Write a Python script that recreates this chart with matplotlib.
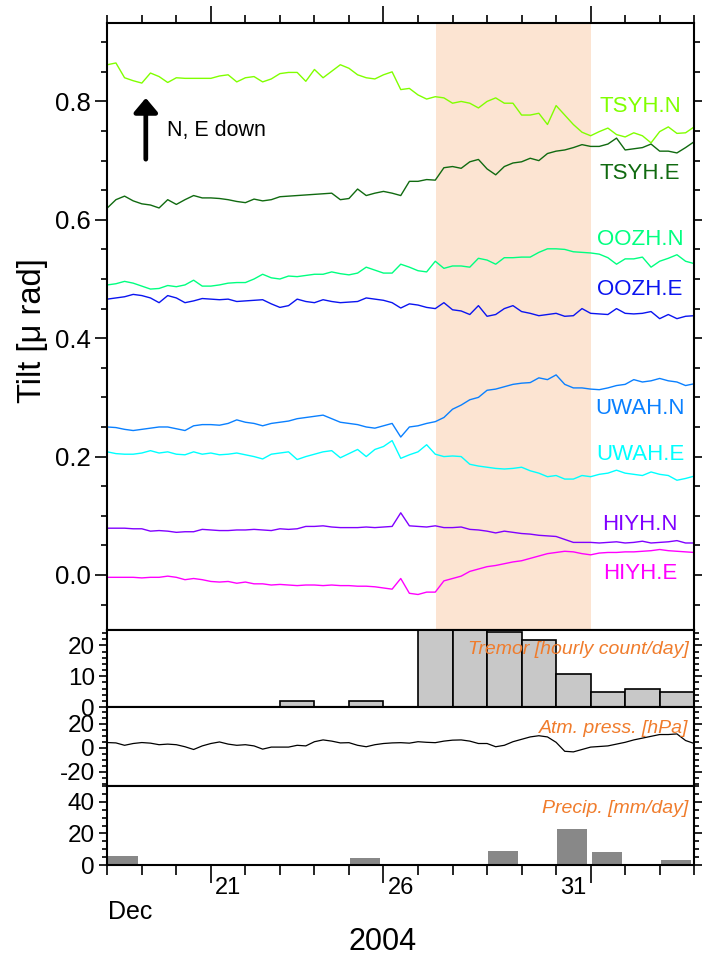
import numpy as np
import matplotlib
matplotlib.use('Agg')
import matplotlib.pyplot as plt
import matplotlib.transforms as mtrans
from matplotlib.ticker import MultipleLocator, FixedLocator, NullFormatter

plt.rcParams['font.family'] = ['Liberation Sans', 'DejaVu Sans']

# time axis: days since 2004-12-18 00:00, 6-hourly samples (69 points -> Jan 4 00:00)
t = np.arange(69) * 0.25

tsyh_n = [0.862, 0.865, 0.840, 0.835, 0.831, 0.848, 0.842, 0.832, 0.840, 0.839,
          0.839, 0.839, 0.839, 0.843, 0.845, 0.833, 0.840, 0.842, 0.833, 0.838,
          0.847, 0.849, 0.849, 0.834, 0.854, 0.840, 0.851, 0.862, 0.856, 0.845,
          0.840, 0.838, 0.845, 0.850, 0.820, 0.822, 0.811, 0.804, 0.808, 0.806,
          0.797, 0.800, 0.797, 0.789, 0.800, 0.806, 0.797, 0.797, 0.777, 0.777,
          0.780, 0.761, 0.793, 0.777, 0.761, 0.748, 0.742, 0.749, 0.755, 0.744,
          0.740, 0.747, 0.742, 0.730, 0.749, 0.757, 0.746, 0.747, 0.757]
tsyh_e = [0.620, 0.634, 0.640, 0.632, 0.627, 0.625, 0.620, 0.634, 0.626, 0.634,
          0.641, 0.637, 0.637, 0.636, 0.634, 0.631, 0.629, 0.635, 0.632, 0.634,
          0.639, 0.640, 0.641, 0.642, 0.643, 0.644, 0.645, 0.634, 0.636, 0.652,
          0.641, 0.645, 0.648, 0.645, 0.641, 0.665, 0.665, 0.668, 0.667, 0.688,
          0.690, 0.687, 0.698, 0.702, 0.686, 0.676, 0.690, 0.696, 0.698, 0.704,
          0.700, 0.712, 0.716, 0.718, 0.722, 0.727, 0.724, 0.724, 0.728, 0.738,
          0.718, 0.720, 0.722, 0.728, 0.716, 0.716, 0.713, 0.722, 0.732]
oozh_n = [0.490, 0.492, 0.496, 0.493, 0.488, 0.483, 0.484, 0.489, 0.487, 0.490,
          0.498, 0.488, 0.488, 0.490, 0.493, 0.494, 0.494, 0.500, 0.508, 0.502,
          0.500, 0.505, 0.504, 0.506, 0.508, 0.508, 0.512, 0.509, 0.507, 0.510,
          0.520, 0.515, 0.510, 0.510, 0.525, 0.520, 0.514, 0.512, 0.530, 0.518,
          0.522, 0.522, 0.520, 0.535, 0.532, 0.525, 0.536, 0.536, 0.537, 0.537,
          0.545, 0.551, 0.551, 0.550, 0.546, 0.545, 0.544, 0.542, 0.536, 0.525,
          0.534, 0.534, 0.537, 0.520, 0.530, 0.535, 0.541, 0.530, 0.526]
oozh_e = [0.466, 0.468, 0.470, 0.474, 0.472, 0.468, 0.460, 0.472, 0.468, 0.460,
          0.463, 0.467, 0.466, 0.465, 0.466, 0.462, 0.463, 0.464, 0.465, 0.458,
          0.452, 0.455, 0.466, 0.462, 0.460, 0.465, 0.462, 0.460, 0.461, 0.462,
          0.468, 0.466, 0.464, 0.460, 0.451, 0.458, 0.456, 0.452, 0.450, 0.460,
          0.448, 0.446, 0.440, 0.455, 0.437, 0.440, 0.450, 0.455, 0.445, 0.442,
          0.438, 0.440, 0.442, 0.437, 0.438, 0.450, 0.442, 0.441, 0.440, 0.450,
          0.442, 0.441, 0.442, 0.445, 0.433, 0.440, 0.433, 0.437, 0.438]
uwah_n = [0.250, 0.249, 0.246, 0.244, 0.246, 0.248, 0.250, 0.250, 0.247, 0.244,
          0.252, 0.254, 0.254, 0.253, 0.256, 0.262, 0.258, 0.256, 0.252, 0.256,
          0.258, 0.260, 0.264, 0.266, 0.268, 0.270, 0.264, 0.258, 0.256, 0.254,
          0.250, 0.248, 0.252, 0.256, 0.233, 0.250, 0.252, 0.256, 0.259, 0.266,
          0.280, 0.287, 0.296, 0.300, 0.312, 0.314, 0.318, 0.322, 0.324, 0.325,
          0.333, 0.330, 0.338, 0.322, 0.316, 0.316, 0.314, 0.313, 0.316, 0.320,
          0.322, 0.330, 0.326, 0.328, 0.332, 0.328, 0.326, 0.320, 0.323]
uwah_e = [0.208, 0.205, 0.204, 0.204, 0.206, 0.210, 0.206, 0.208, 0.204, 0.203,
          0.208, 0.204, 0.206, 0.203, 0.204, 0.206, 0.203, 0.200, 0.196, 0.204,
          0.206, 0.208, 0.195, 0.200, 0.204, 0.208, 0.210, 0.198, 0.205, 0.212,
          0.200, 0.212, 0.217, 0.227, 0.197, 0.203, 0.208, 0.220, 0.204, 0.200,
          0.201, 0.200, 0.187, 0.184, 0.182, 0.180, 0.179, 0.180, 0.182, 0.176,
          0.172, 0.166, 0.168, 0.162, 0.162, 0.168, 0.166, 0.170, 0.172, 0.177,
          0.172, 0.170, 0.168, 0.174, 0.170, 0.168, 0.160, 0.163, 0.167]
hiyh_n = [0.079, 0.079, 0.079, 0.078, 0.078, 0.074, 0.075, 0.074, 0.072, 0.073,
          0.073, 0.077, 0.076, 0.075, 0.075, 0.076, 0.076, 0.077, 0.076, 0.075,
          0.078, 0.077, 0.078, 0.082, 0.082, 0.083, 0.081, 0.080, 0.080, 0.080,
          0.081, 0.080, 0.081, 0.082, 0.105, 0.083, 0.082, 0.081, 0.083, 0.080,
          0.080, 0.081, 0.077, 0.076, 0.074, 0.071, 0.074, 0.072, 0.070, 0.069,
          0.067, 0.066, 0.065, 0.060, 0.055, 0.055, 0.055, 0.054, 0.055, 0.056,
          0.054, 0.055, 0.057, 0.054, 0.055, 0.056, 0.058, 0.054, 0.054]
hiyh_e = [-0.004, -0.004, -0.004, -0.004, -0.005, -0.004, -0.004, -0.002, -0.004, -0.008,
          -0.006, -0.008, -0.011, -0.012, -0.011, -0.014, -0.012, -0.015, -0.015, -0.017,
          -0.016, -0.017, -0.018, -0.017, -0.017, -0.018, -0.017, -0.018, -0.018, -0.019,
          -0.019, -0.020, -0.022, -0.024, -0.006, -0.031, -0.033, -0.029, -0.029, -0.010,
          -0.006, -0.002, 0.006, 0.010, 0.014, 0.016, 0.019, 0.022, 0.024, 0.028,
          0.032, 0.036, 0.038, 0.040, 0.039, 0.036, 0.034, 0.037, 0.038, 0.038,
          0.039, 0.039, 0.040, 0.041, 0.043, 0.041, 0.040, 0.039, 0.038]

stations = ['TSYH.N', 'TSYH.E', 'OOZH.N', 'OOZH.E', 'UWAH.N', 'UWAH.E', 'HIYH.N', 'HIYH.E']
series = [tsyh_n, tsyh_e, oozh_n, oozh_e, uwah_n, uwah_e, hiyh_n, hiyh_e]
colors = ['#80FF00', '#106A10', '#00FF80', '#0A14F0', '#0A80FF', '#00FFFF', '#8000FF', '#FF00FF']
label_y = [0.791, 0.679, 0.566, 0.482, 0.282, 0.203, 0.086, 0.003]

pressure = [4.3, 4.0, 2.0, 3.5, 4.3, 3.8, 2.5, 3.0, 2.5, 0.8,
            -1.5, 1.5, 3.5, 4.8, 3.0, 2.0, 2.5, 1.5, -1.2, 0.5,
            0.5, 0.5, 2.0, 1.5, 5.0, 6.5, 5.5, 4.0, 4.2, 2.0,
            0.8, 2.5, 3.5, 4.0, 4.2, 3.8, 5.0, 4.5, 4.2, 5.5,
            6.3, 6.5, 5.5, 3.5, 3.5, 0.8, 2.0, 5.0, 7.0, 9.0,
            10.0, 9.0, 4.5, -3.0, -3.5, -1.5, 0.5, 1.0, 1.5, 3.0,
            4.5, 6.5, 8.0, 9.5, 11.0, 11.0, 11.5, 6.0, 3.5]

tremor_day = [5, 7, 9, 10, 11, 12, 13, 14, 15, 16]
tremor_cnt = [1.8, 1.8, 35, 35, 24.2, 21.9, 10.8, 4.9, 5.7, 4.9]
precip_day = [0, 7, 11, 13, 14, 16]
precip_mm = [5.7, 4.6, 9.0, 23.0, 8.2, 3.0]

date_labels = ['21', '26', '31']
date_label_pos = [3.5, 8.5, 13.5]
major_days = [3, 8, 14]
shade_start, shade_end = 9.52, 14.0
orange = '#F07C2C'

W, H = 702, 963
fig = plt.figure(figsize=(W / 100, H / 100), dpi=100)
left, width = 107.3 / W, 586.9 / W
ax = fig.add_axes([left, 333 / H, width, 606.7 / H])
ax_t = fig.add_axes([left, 256 / H, width, 77 / H])
ax_p = fig.add_axes([left, 177 / H, width, 79 / H])
ax_r = fig.add_axes([left, 98 / H, width, 79 / H])

for a in (ax, ax_t, ax_p, ax_r):
    a.set_xlim(0, 17)
    for s in a.spines.values():
        s.set_linewidth(1.5)
    a.tick_params(axis='y', which='both', direction='out', left=True, right=True,
                  labelright=False, width=1.2)

# ---- top panel
ax.axvspan(shade_start, shade_end, color='#FCE4D2', lw=0, zorder=0)
for s, c, name, ly in zip(series, colors, stations, label_y):
    ax.plot(t, s, color=c, lw=1.0)
    ax.text(15.43, ly, name, color=c, fontsize=16, ha='center', va='center')
ax.set_ylim(-0.093, 0.932)
ax.yaxis.set_major_locator(FixedLocator([0.0, 0.2, 0.4, 0.6, 0.8]))
ax.yaxis.set_minor_locator(MultipleLocator(0.05))
ax.set_yticklabels(['0.0', '0.2', '0.4', '0.6', '0.8'])
ax.tick_params(axis='y', which='major', length=9, labelsize=18.5, pad=3)
ax.tick_params(axis='y', which='minor', length=4.5)
ax.xaxis.set_major_locator(FixedLocator(major_days))
ax.xaxis.set_minor_locator(MultipleLocator(1))
ax.xaxis.set_major_formatter(NullFormatter())
ax.tick_params(axis='x', which='both', top=True, bottom=False, direction='out', width=1.2)
ax.tick_params(axis='x', which='major', length=12)
ax.tick_params(axis='x', which='minor', length=6)
ax.set_ylabel('Tilt [μ rad]', fontsize=23.5)
ax.yaxis.set_label_coords(-0.101, (630 - 330.5) / 606.7)
ax.annotate('', xy=(0.0656, 0.877), xytext=(0.0656, 0.776), xycoords='axes fraction',
            arrowprops=dict(arrowstyle='-|>,head_width=0.42,head_length=0.5',
                            lw=3.4, color='black', mutation_scale=17, shrinkA=0, shrinkB=0))
ax.text(0.101, 0.824, 'N, E down', transform=ax.transAxes, fontsize=15.5,
        ha='left', va='center')

# ---- tremor
ax_t.bar(tremor_day, tremor_cnt, width=1.0, align='edge', color='#C8C8C8',
         edgecolor='black', linewidth=1.2)
ax_t.set_ylim(0, 25)
ax_t.yaxis.set_major_locator(FixedLocator([0, 10, 20]))
ax_t.yaxis.set_minor_locator(MultipleLocator(2))
ax_t.text(0.99, 0.75, 'Tremor [hourly count/day]', transform=ax_t.transAxes, color=orange,
          fontsize=14, style='italic', ha='right', va='center')

# ---- pressure
ax_p.plot(t, pressure, color='black', lw=0.9)
ax_p.set_ylim(-32, 34)
ax_p.yaxis.set_major_locator(FixedLocator([-20, 0, 20]))
ax_p.yaxis.set_minor_locator(MultipleLocator(5))
ax_p.set_yticklabels(['-20', '0', '20'])
ax_p.text(0.99, 0.73, 'Atm. press. [hPa]', transform=ax_p.transAxes, color=orange,
          fontsize=14, style='italic', ha='right', va='center')

# ---- precipitation
ax_r.bar(np.array(precip_day) + 0.03, precip_mm, width=0.87, align='edge', color='#888888')
ax_r.set_ylim(0, 50)
ax_r.yaxis.set_major_locator(FixedLocator([0, 20, 40]))
ax_r.yaxis.set_minor_locator(MultipleLocator(5))
ax_r.text(0.99, 0.72, 'Precip. [mm/day]', transform=ax_r.transAxes, color=orange,
          fontsize=14, style='italic', ha='right', va='center')

for a in (ax_t, ax_p, ax_r):
    a.tick_params(axis='y', which='major', length=6, labelsize=17.5, pad=3)
    a.tick_params(axis='y', which='minor', length=3.5)
for a in (ax_t, ax_p):
    a.tick_params(axis='x', which='both', bottom=False, top=False, labelbottom=False)

ax_r.xaxis.set_major_locator(FixedLocator(major_days))
ax_r.xaxis.set_minor_locator(MultipleLocator(1))
ax_r.xaxis.set_major_formatter(NullFormatter())
ax_r.tick_params(axis='x', which='both', bottom=True, top=False, direction='out', width=1.2)
ax_r.tick_params(axis='x', which='major', length=13)
ax_r.tick_params(axis='x', which='minor', length=7)

tr = mtrans.blended_transform_factory(ax_r.transData, fig.transFigure)
for lab, pos in zip(date_labels, date_label_pos):
    fig.text(pos, 1 - 888 / H, lab, transform=tr, fontsize=17, ha='center', va='center')
fig.text(107.5 / W, 1 - 912 / H, 'Dec', fontsize=18, ha='left', va='center')
fig.text(383 / W, 1 - 942 / H, '2004', fontsize=22, ha='center', va='center')

fig.savefig('out.png', dpi=100)
